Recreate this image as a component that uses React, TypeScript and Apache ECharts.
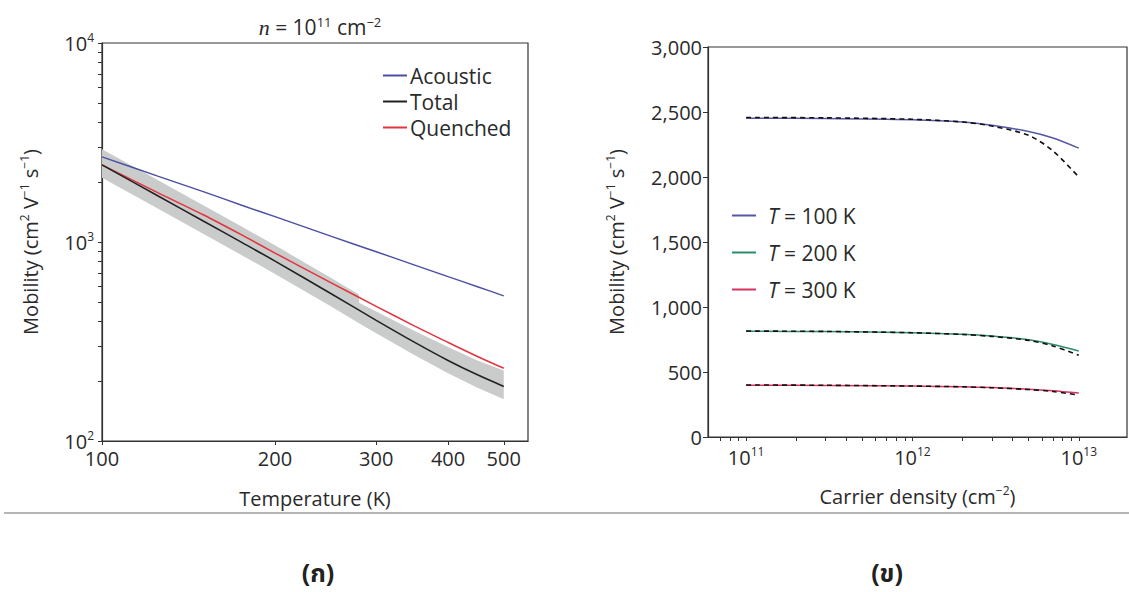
import React, { useEffect, useRef } from 'react';
import * as echarts from 'echarts';

// ---------- Panel (ก): mobility vs temperature, n = 1e11 cm^-2 ----------
const tempK = [100, 125, 150, 175, 200, 250, 300, 350, 400, 450, 500];
const acoustic = [2680, 2145, 1790, 1530, 1340, 1070, 893, 766, 670, 596, 536];
const total = [2440, 1707, 1275, 996, 802, 551, 404, 313, 254, 215, 188];
const quenched = [2440, 1770, 1370, 1085, 880, 625, 475, 378, 313, 266, 232];
const bandT = [100, 125, 150, 175, 200, 250, 280, 280, 300, 350, 400, 450, 500];
const bandHi = [2928, 2048, 1530, 1195, 962, 661, 545, 495, 448, 357, 297, 254, 226];
const bandLo = [2103, 1472, 1099, 859, 691, 475, 391, 391, 348, 270, 219, 185, 162];
const tempTickLabels = [100, 200, 300, 400, 500];
const mobTickLabels = [100, 1000, 10000];
const mobMinorTicks = [100, 200, 300, 400, 500, 600, 700, 800, 900, 1000, 2000, 3000, 4000, 5000, 6000, 7000, 8000, 9000, 10000];

// ---------- Panel (ข): mobility vs carrier density ----------
const density = [1e11, 3e11, 1e12, 2e12, 3e12, 5e12, 7e12, 1e13];
const mu100 = [2452, 2450, 2440, 2423, 2398, 2350, 2300, 2222];
const mu100Dash = [2458, 2455, 2444, 2423, 2392, 2320, 2200, 2000];
const mu200 = [813, 811, 802, 790, 776, 748, 712, 662];
const mu200Dash = [815, 812, 802, 789, 774, 743, 700, 628];
const mu300 = [398, 397, 392, 386, 380, 368, 356, 338];
const mu300Dash = [400, 398, 392, 386, 379, 365, 350, 322];
const densityLabels = [1e11, 1e12, 1e13];
const densityTicks = [7e10, 8e10, 9e10, 1e11, 2e11, 3e11, 4e11, 5e11, 6e11, 7e11, 8e11, 9e11, 1e12, 2e12, 3e12, 4e12, 5e12, 6e12, 7e12, 8e12, 9e12, 1e13, 2e13];

const FONT = 'Open Sans, Noto Sans, sans-serif';
const INK = '#2a2a2a';
const L = Math.log10;

const supRich = {
  b: { fontSize: 20, fontFamily: FONT, color: INK, lineHeight: 24 },
  s: { fontSize: 12, fontFamily: FONT, color: INK, verticalAlign: 'top', lineHeight: 24 },
};
const nameRich = { s: { fontSize: 12, fontFamily: FONT, color: INK, verticalAlign: 'top', lineHeight: 24 } };

export default function App() {
  const ref = useRef<HTMLDivElement>(null);
  useEffect(() => {
    if (!ref.current) return;
    const chart = echarts.init(ref.current, null, { renderer: 'svg' });
    const xy = (xs: number[], ys: number[]) => xs.map((x, i) => [L(x), L(ys[i])]);
    const xyN = (ys: number[]) => density.map((n, i) => [L(n), ys[i]]);

    const axisLineStyle = { lineStyle: { color: '#333', width: 1.2 } };
    const thaiFont = 'Noto Sans Thai, Loma, Garuda, Noto Sans, sans-serif';

    const option: any = {
      animation: false,
      backgroundColor: '#ffffff',
      grid: [
        { left: 102, top: 43, width: 426, height: 398, show: true, borderColor: '#333', borderWidth: 1.2, backgroundColor: 'transparent' },
        { left: 708, top: 47, width: 419, height: 390, show: true, borderColor: '#333', borderWidth: 1.2, backgroundColor: 'transparent' },
      ],
      xAxis: [
        {
          gridIndex: 0, type: 'value', min: 2, max: L(551),
          axisLine: axisLineStyle, splitLine: { show: false },
          axisTick: { show: true, inside: false, length: 4, customValues: tempTickLabels.map(L), lineStyle: { color: '#333' } },
          axisLabel: {
            customValues: tempTickLabels.map(L), margin: 7,
            formatter: (v: number) => String(Math.round(Math.pow(10, v))),
            fontSize: 20, fontFamily: FONT, color: INK,
          },
          name: 'Temperature (K)', nameLocation: 'middle', nameGap: 47,
          nameTextStyle: { fontSize: 20, fontFamily: FONT, color: INK },
        },
        {
          gridIndex: 1, type: 'value', min: L(5.9e10), max: L(1.95e13),
          axisLine: axisLineStyle, splitLine: { show: false },
          axisTick: { show: true, inside: false, length: 4, customValues: densityTicks.map(L), lineStyle: { color: '#333' } },
          axisLabel: {
            customValues: densityLabels.map(L), margin: 8,
            formatter: (v: number) => `{b|10}{s|${Math.round(v)}}`,
            rich: supRich,
          },
          name: 'Carrier density (cm{s|−2})', nameLocation: 'middle', nameGap: 47,
          nameTextStyle: { fontSize: 20, fontFamily: FONT, color: INK, lineHeight: 24, rich: nameRich },
        },
      ],
      yAxis: [
        {
          gridIndex: 0, type: 'value', min: 2, max: 4,
          axisLine: axisLineStyle, splitLine: { show: false },
          axisTick: { show: true, inside: false, length: 4, customValues: mobMinorTicks.map(L), lineStyle: { color: '#333' } },
          axisLabel: {
            customValues: mobTickLabels.map(L), margin: 8,
            formatter: (v: number) => `{b|10}{s|${Math.round(v)}}`,
            rich: supRich,
          },
          name: 'Mobility (cm{s|2} V{s|−1} s{s|−1})', nameLocation: 'middle', nameGap: 60,
          nameTextStyle: { fontSize: 20, fontFamily: FONT, color: INK, lineHeight: 24, rich: nameRich },
        },
        {
          gridIndex: 1, type: 'value', min: 0, max: 3000, interval: 500,
          axisLine: axisLineStyle, splitLine: { show: false },
          axisTick: { show: true, inside: false, length: 5, lineStyle: { color: '#333' } },
          axisLabel: {
            margin: 6, fontSize: 20, fontFamily: FONT, color: INK,
            formatter: (v: number) => v.toLocaleString('en-US'),
          },
          name: 'Mobility (cm{s|2} V{s|−1} s{s|−1})', nameLocation: 'middle', nameGap: 80,
          nameTextStyle: { fontSize: 20, fontFamily: FONT, color: INK, lineHeight: 24, rich: nameRich },
        },
      ],
      legend: [
        {
          data: ['Acoustic', 'Total', 'Quenched'], orient: 'vertical', left: 378, top: 60,
          icon: 'rect', itemWidth: 24, itemHeight: 2, itemGap: 5,
          textStyle: { fontSize: 21, fontFamily: FONT, color: INK, padding: [0, 0, 0, -2] },
        },
        {
          data: ['T = 100 K', 'T = 200 K', 'T = 300 K'], orient: 'vertical', left: 727, top: 200,
          icon: 'rect', itemWidth: 24, itemHeight: 2, itemGap: 16,
          formatter: (name: string) => `{i|T}${name.slice(1)}`,
          textStyle: {
            fontSize: 21, fontFamily: FONT, color: INK, padding: [0, 0, 0, 7],
            rich: { i: { fontSize: 21, fontFamily: FONT, fontStyle: 'italic', color: INK } },
          },
        },
      ],
      series: [
        {
          type: 'custom', name: 'band', xAxisIndex: 0, yAxisIndex: 0, z: 1,
          data: [[L(bandT[0]), L(bandHi[0])]],
          renderItem: (params: any, api: any) => {
            const upper = bandT.map((t, i) => api.coord([L(t), L(bandHi[i])]));
            const lower = bandT.map((t, i) => api.coord([L(t), L(bandLo[i])])).reverse();
            return {
              type: 'polygon',
              shape: { points: upper.concat(lower) },
              style: { fill: '#c9cccb', stroke: 'none' },
            };
          },
          silent: true,
        },
        { type: 'line', name: 'Acoustic', xAxisIndex: 0, yAxisIndex: 0, data: xy(tempK, acoustic), smooth: 0.3, symbol: 'none', color: '#4b4fa3', lineStyle: { width: 1.4 }, z: 3 },
        { type: 'line', name: 'Quenched', xAxisIndex: 0, yAxisIndex: 0, data: xy(tempK, quenched), smooth: 0.3, symbol: 'none', color: '#e2343f', lineStyle: { width: 1.5 }, z: 3 },
        { type: 'line', name: 'Total', xAxisIndex: 0, yAxisIndex: 0, data: xy(tempK, total), smooth: 0.3, symbol: 'none', color: '#222222', lineStyle: { width: 1.6 }, z: 4 },

        { type: 'line', name: 'T = 100 K', xAxisIndex: 1, yAxisIndex: 1, data: xyN(mu100), smooth: 0.3, symbol: 'none', color: '#5558a8', lineStyle: { width: 1.5 } },
        { type: 'line', name: 'T = 200 K', xAxisIndex: 1, yAxisIndex: 1, data: xyN(mu200), smooth: 0.3, symbol: 'none', color: '#2e8a6c', lineStyle: { width: 1.5 } },
        { type: 'line', name: 'T = 300 K', xAxisIndex: 1, yAxisIndex: 1, data: xyN(mu300), smooth: 0.3, symbol: 'none', color: '#d8335e', lineStyle: { width: 1.5 } },
        { type: 'line', name: 'fit100', xAxisIndex: 1, yAxisIndex: 1, data: xyN(mu100Dash), smooth: 0.3, symbol: 'none', color: '#111', lineStyle: { width: 1.6, type: [5, 4] }, z: 4 },
        { type: 'line', name: 'fit200', xAxisIndex: 1, yAxisIndex: 1, data: xyN(mu200Dash), smooth: 0.3, symbol: 'none', color: '#111', lineStyle: { width: 1.6, type: [5, 4] }, z: 4 },
        { type: 'line', name: 'fit300', xAxisIndex: 1, yAxisIndex: 1, data: xyN(mu300Dash), smooth: 0.3, symbol: 'none', color: '#111', lineStyle: { width: 1.6, type: [5, 4] }, z: 4 },
      ],
      graphic: [
        {
          type: 'text', x: 320, y: 27,
          style: {
            text: '{i|n} = 10{s|11} cm{s|−2}', align: 'center', verticalAlign: 'middle',
            fontSize: 21, fontFamily: FONT, fill: INK,
            rich: {
              i: { fontSize: 22, fontFamily: 'Liberation Serif, serif', fontStyle: 'italic', fill: INK, lineHeight: 24 },
              s: { fontSize: 13, fontFamily: FONT, fill: INK, verticalAlign: 'top', lineHeight: 24 },
            },
          },
        },
        { type: 'rect', shape: { x: 4, y: 512, width: 1125, height: 2 }, style: { fill: '#b5b5b5' } },
        {
          type: 'text', x: 318, y: 574,
          style: { text: '(ก)', align: 'center', verticalAlign: 'middle', fontSize: 25, fontWeight: 'bold', fontFamily: thaiFont, fill: '#222' },
        },
        {
          type: 'text', x: 887, y: 574,
          style: { text: '(ข)', align: 'center', verticalAlign: 'middle', fontSize: 25, fontWeight: 'bold', fontFamily: thaiFont, fill: '#222' },
        },
      ],
    };
    chart.setOption(option);
    return () => chart.dispose();
  }, []);
  return <div ref={ref} style={{ position: 'fixed', left: 0, top: 0, width: 1129, height: 592, background: '#fff' }} />;
}
